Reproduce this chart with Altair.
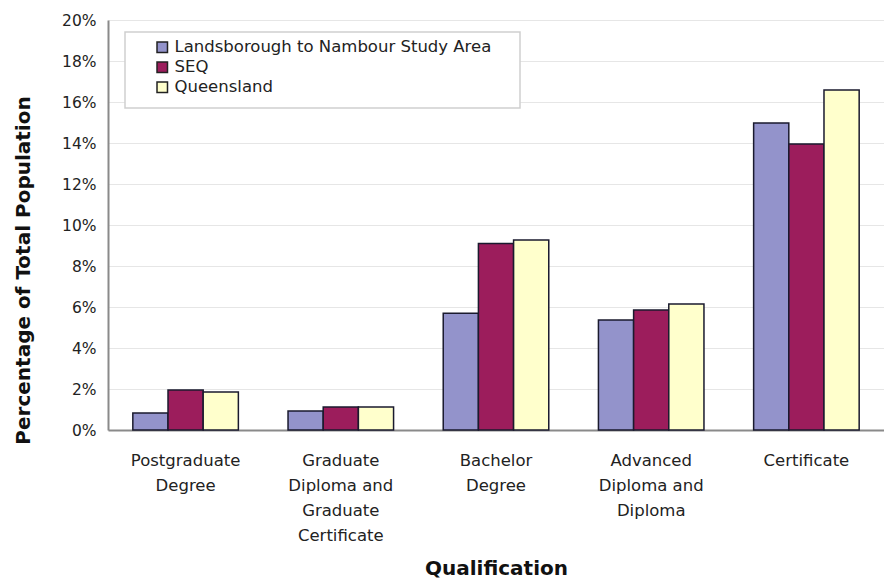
import altair as alt
import pandas as pd

categories = [
    "Postgraduate\nDegree",
    "Graduate\nDiploma and\nGraduate\nCertificate",
    "Bachelor\nDegree",
    "Advanced\nDiploma and\nDiploma",
    "Certificate",
]
series = ["Landsborough to Nambour Study Area", "SEQ", "Queensland"]
study_area = [0.0083, 0.0093, 0.0570, 0.0537, 0.1498]
seq = [0.0195, 0.0112, 0.0910, 0.0585, 0.1395]
queensland = [0.0185, 0.0112, 0.0927, 0.0615, 0.1658]
colors = ["#9393CB", "#9C1D5C", "#FFFFCC"]

rows = []
for s, vals in zip(series, [study_area, seq, queensland]):
    for c, v in zip(categories, vals):
        rows.append({"Qualification": c, "Series": s, "Value": v})
df = pd.DataFrame(rows)

FONT = "DejaVu Sans"

frame = alt.Chart(pd.DataFrame({"a": [0]})).mark_rect(
    fill="white", stroke="#cfcfcf", strokeWidth=1.5
).encode(
    x=alt.value(17), x2=alt.value(412), y=alt.value(12), y2=alt.value(88)
)

bars = alt.Chart(df).mark_bar(stroke="#1a1a2e", strokeWidth=1.5).encode(
    x=alt.X("Qualification:N", sort=categories,
            scale=alt.Scale(paddingInner=0.32, paddingOuter=0.16),
            axis=alt.Axis(title="Qualification", labelAngle=0,
                          labelExpr="split(datum.label, '\\n')",
                          labelFontSize=16.5, labelLineHeight=25, labelPadding=22,
                          labelColor="#222", labelFont=FONT,
                          titleFont=FONT, titleFontSize=20,
                          titleFontWeight="bold", titleColor="#111", titlePadding=15,
                          ticks=False, domainColor="#8a8a8a", domainWidth=2)),
    xOffset=alt.XOffset("Series:N", sort=series),
    y=alt.Y("Value:Q", scale=alt.Scale(domain=[0, 0.2]),
            axis=alt.Axis(title="Percentage of Total Population", format=".0%",
                          values=[i / 100 for i in range(0, 21, 2)],
                          labelFontSize=15.5, labelColor="#222", labelFont=FONT,
                          labelPadding=12, ticks=False,
                          titleFont=FONT, titleFontSize=20,
                          titleFontWeight="bold", titleColor="#111", titlePadding=28,
                          titleY=250,
                          domainColor="#8a8a8a", domainWidth=2,
                          gridColor="#e6e6e6")),
    color=alt.Color("Series:N", sort=series,
                    scale=alt.Scale(domain=series, range=colors),
                    legend=alt.Legend(title=None, orient="none", legendX=44, legendY=17,
                                      symbolType="square", symbolSize=110,
                                      symbolStrokeColor="#222", symbolStrokeWidth=1.5,
                                      labelFontSize=16.5, labelFont=FONT,
                                      labelColor="#222", rowPadding=3,
                                      padding=2, labelLimit=400)),
)

chart = alt.layer(frame, bars).properties(
    width=776, height=410,
    padding={"left": 100, "top": 12, "right": 0, "bottom": 152},
    autosize=alt.AutoSizeParams(type="none"),
).configure_view(stroke=None)

chart.save("out.html", embed_options={"renderer": "svg", "actions": False})
